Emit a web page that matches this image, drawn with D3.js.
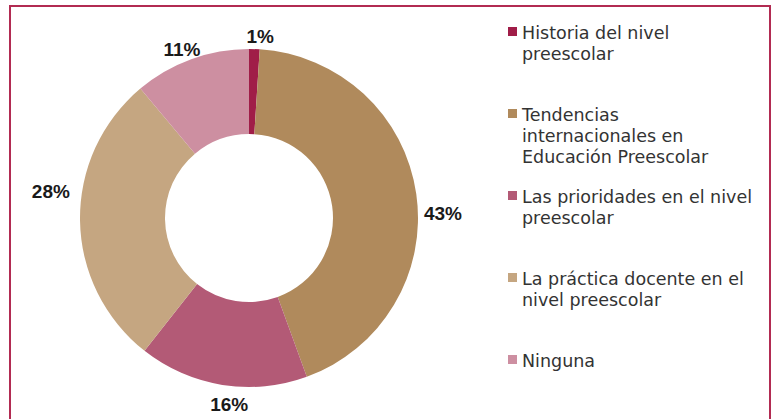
<!DOCTYPE html>
<html lang="es">
<head>
<meta charset="utf-8">
<script src="https://cdn.jsdelivr.net/npm/d3@7"></script>
<style>
  html, body { margin: 0; padding: 0; background: #ffffff; }
  svg { display: block; }
</style>
</head>
<body>
<svg id="chart" width="773" height="419"></svg>
<script>
// Temas de formación señalados (porcentaje de respuestas)
const categories = [
  "Historia del nivel preescolar",
  "Tendencias internacionales en Educación Preescolar",
  "Las prioridades en el nivel preescolar",
  "La práctica docente en el nivel preescolar",
  "Ninguna"
];
const values = [1, 43, 16, 28, 11];
const valueLabels = ["1%", "43%", "16%", "28%", "11%"];
// Legend entries broken into lines as they are set in the legend
const legendLines = [
  ["Historia del nivel", "preescolar"],
  ["Tendencias", "internacionales en", "Educación Preescolar"],
  ["Las prioridades en el nivel", "preescolar"],
  ["La práctica docente en el", "nivel preescolar"],
  ["Ninguna"]
];
const colors = ["#a01d48", "#b08a5c", "#b35a76", "#c5a681", "#cd8fa1"];

const svg = d3.select("#chart");

// Frame
svg.append("rect")
  .attr("x", 10).attr("y", 6)
  .attr("width", 760).attr("height", 430)
  .attr("fill", "none")
  .attr("stroke", "#b22b52")
  .attr("stroke-width", 2);

// Donut
const cx = 249, cy = 218, outerR = 169, innerR = 84;
const pie = d3.pie().sort(null).value(d => d)(values);
const arc = d3.arc().innerRadius(innerR).outerRadius(outerR);

const g = svg.append("g").attr("transform", `translate(${cx},${cy})`);
g.selectAll("path.slice")
  .data(pie)
  .join("path")
  .attr("class", "slice")
  .attr("d", arc)
  .attr("fill", (d, i) => colors[i]);

// Value labels placed outside the ring (angle tweak in degrees, radius)
const labelPlacement = [
  { turn: 1.7, r: 182 },
  { turn: 6.7, r: 194 },
  { turn: -3.0, r: 187 },
  { turn: 8.7, r: 200 },
  { turn: -1.6, r: 182 }
];
const labelFont = 19;
g.selectAll("text.val")
  .data(pie)
  .join("text")
  .attr("class", "val")
  .each(function (d, i) {
    const p = labelPlacement[i];
    const a = (d.startAngle + d.endAngle) / 2 + p.turn * Math.PI / 180;
    d3.select(this)
      .attr("x", Math.sin(a) * p.r)
      .attr("y", -Math.cos(a) * p.r + labelFont * 0.358);
  })
  .attr("text-anchor", "middle")
  .attr("font-family", "'Liberation Sans', Arial, sans-serif")
  .attr("font-weight", "bold")
  .attr("font-size", labelFont)
  .attr("fill", "#1a1a1a")
  .text((d, i) => valueLabels[i]);

// Legend
const legendX = 508, legendY = 39, entryStep = 82, lineStep = 21;
const legend = svg.append("g").attr("transform", `translate(${legendX},${legendY})`);
const entries = legend.selectAll("g.entry")
  .data(categories)
  .join("g")
  .attr("class", "entry")
  .attr("transform", (d, i) => `translate(0,${i * entryStep})`);

entries.append("rect")
  .attr("x", 0).attr("y", -12)
  .attr("width", 9).attr("height", 9)
  .attr("fill", (d, i) => colors[i]);

entries.append("text")
  .attr("x", 14)
  .attr("font-family", "'DejaVu Sans', sans-serif")
  .attr("font-size", 17.5)
  .attr("fill", "#333333")
  .selectAll("tspan")
  .data((d, i) => legendLines[i])
  .join("tspan")
  .attr("x", 14)
  .attr("y", (d, j) => j * lineStep)
  .text(d => d);
</script>
</body>
</html>
